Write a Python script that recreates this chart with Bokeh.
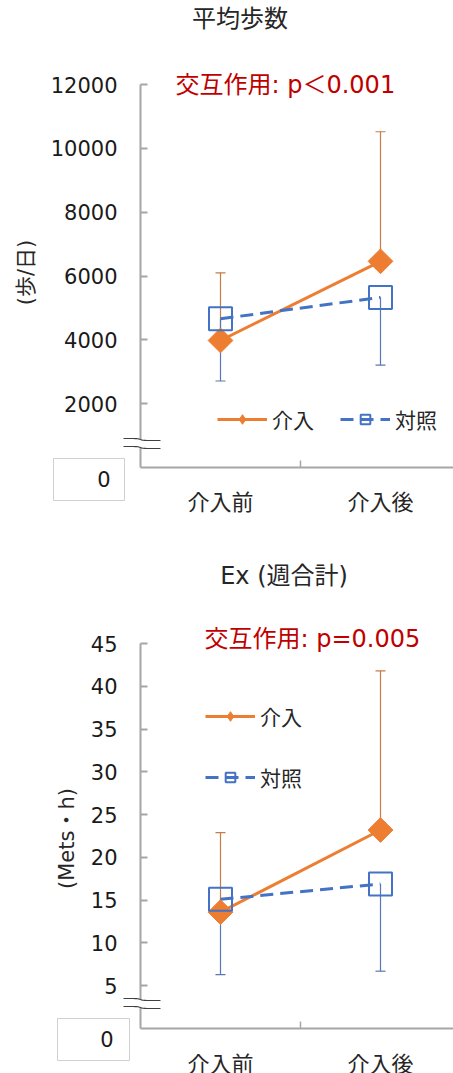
import numpy as np
from bokeh.plotting import figure
from bokeh.models import (Range1d, FixedTicker, Label, Legend, LegendItem,
                          Whisker, TeeHead, ColumnDataSource)
from bokeh.layouts import column
from bokeh.embed import file_html
from bokeh.resources import INLINE
from bokeh.core.properties import value

# ---------------- data ----------------
categories = ["介入前", "介入後"]
series_names = ["介入", "対照"]

# chart 1: 平均歩数 (steps/day)
steps_int_mean = [3980, 6460]
steps_int_upper = [6100, 10520]
steps_ctl_mean = [4660, 5330]
steps_ctl_lower = [2710, 3210]
steps_ticks = [2000, 4000, 6000, 8000, 10000, 12000]
steps_max = 12000

# chart 2: Ex (週合計)
ex_int_mean = [13.6, 23.2]
ex_int_upper = [22.9, 41.8]
ex_ctl_mean = [15.1, 16.9]
ex_ctl_lower = [6.3, 6.7]
ex_ticks = [5, 10, 15, 20, 25, 30, 35, 40, 45]
ex_max = 45

titles = ["平均歩数", "Ex (週合計)"]
y_titles = ["(歩/日)", "(Mets・h)"]
notes = ["交互作用: p＜0.001", "交互作用: p=0.005"]

# ---------------- style ----------------
ORANGE = "#ED7D31"
BLUE = "#4472C4"
ORANGE_ERR = "#C57B4A"
BLUE_ERR = "#5778B5"
AXIS = "#A6A6A6"
RED = "#C00000"
TXT = "#262626"
MIX = "DejaVu Sans, Noto Sans CJK JP"
CJK = "Noto Sans CJK JP"

W = 453
FL = 140            # frame left (px)
FW = W - FL
CAT_PX = 160        # px per category


def fx(px):
    return (np.asarray(px, dtype=float) - FL) / CAT_PX


def make_chart(idx, H, fb, axis_px, ymax, ticks, int_mean, int_upper, ctl_mean, ctl_lower,
               title_pos, note_pos, legend_cfg, zero_box, zero_txt, ylab_pos, break_y,
               axis_cats, cat_y=None):
    k = axis_px / ymax

    def fy(py):
        return (fb - np.asarray(py, dtype=float)) / k

    p = figure(width=W, height=H, x_range=Range1d(0, FW / CAT_PX), y_range=Range1d(0, fb / k),
               output_backend="svg", toolbar_location=None,
               min_border_left=FL, min_border_right=0, min_border_top=0,
               min_border_bottom=H - fb)
    p.outline_line_color = None
    p.xgrid.visible = False
    p.ygrid.visible = False
    p.background_fill_color = "white"

    xs = [i + 0.5 for i in range(len(categories))]

    # y axis
    ya = p.yaxis[0]
    ya.ticker = FixedTicker(ticks=ticks)
    ya.bounds = (0, ymax)
    ya.axis_line_color = AXIS
    ya.axis_line_width = 2
    ya.major_tick_in = 7
    ya.major_tick_out = 0
    ya.major_tick_line_color = AXIS
    ya.major_tick_line_width = 2
    ya.minor_tick_line_color = None
    ya.major_label_standoff = 23
    ya.major_label_text_font = "DejaVu Sans"
    ya.major_label_text_font_size = "21px"
    ya.major_label_text_color = "#1A1A1A"

    # x axis
    xa = p.xaxis[0]
    bounds_cat = [float(i) for i in range(1, len(categories))]
    if axis_cats:
        xa.ticker = FixedTicker(ticks=xs, minor_ticks=bounds_cat)
        xa.major_label_overrides = {x: c for x, c in zip(xs, categories)}
    else:
        xa.ticker = FixedTicker(ticks=[], minor_ticks=bounds_cat)
    xa.axis_line_color = AXIS
    xa.axis_line_width = 2
    xa.major_tick_in = 0
    xa.major_tick_out = 0
    xa.minor_tick_in = 7
    xa.minor_tick_out = 0
    xa.minor_tick_line_color = AXIS
    xa.minor_tick_line_width = 1.5
    xa.major_label_standoff = 16
    xa.major_label_text_font = CJK
    xa.major_label_text_font_size = "22px"
    xa.major_label_text_color = TXT

    if not axis_cats:
        # category names below the (cropped) bottom axis
        p.text(x=xs, y=[float(fy(cat_y))] * len(xs), text=categories,
               text_align="center", text_baseline="middle",
               text_font=value(CJK), text_font_size="22px", text_color=TXT, level="overlay")

    src_int = ColumnDataSource(dict(x=xs, y=int_mean, upper=int_upper))
    src_ctl = ColumnDataSource(dict(x=xs, y=ctl_mean, lower=ctl_lower))

    # error bars
    w1 = Whisker(source=src_int, base="x", lower="y", upper="upper", dimension="height",
                 line_color=ORANGE_ERR, line_width=1.2,
                 upper_head=TeeHead(size=10, line_color=ORANGE_ERR, line_width=1.2),
                 lower_head=None, level="underlay")
    w2 = Whisker(source=src_ctl, base="x", lower="lower", upper="y", dimension="height",
                 line_color=BLUE_ERR, line_width=1.2,
                 lower_head=TeeHead(size=10, line_color=BLUE_ERR, line_width=1.2),
                 upper_head=None, level="underlay")
    p.add_layout(w1)
    p.add_layout(w2)

    l_int = p.line("x", "y", source=src_int, line_color=ORANGE, line_width=3)
    l_ctl = p.line("x", "y", source=src_ctl, line_color=BLUE, line_width=3, line_dash="13 7")
    p.scatter("x", "y", source=src_int, marker="square", size=17.5, angle=np.pi / 4,
              fill_color=ORANGE, line_color=ORANGE, line_width=1)
    m_ctl = p.scatter("x", "y", source=src_ctl, marker="square", size=23,
                      fill_color=None, line_color=BLUE, line_width=2)
    # legend proxy for the diamond symbol
    proxy = p.scatter("x", "y", source=src_int, marker="diamond", size=12,
                      fill_color=ORANGE, line_color=ORANGE, line_width=1, visible=False)

    orient, loc, spacing = legend_cfg
    lg = Legend(items=[LegendItem(label=value(series_names[0]), renderers=[l_int, proxy]),
                       LegendItem(label=value(series_names[1]), renderers=[l_ctl, m_ctl])],
                orientation=orient, location=loc, glyph_width=50, glyph_height=24,
                label_standoff=5, spacing=spacing, padding=0, margin=0,
                border_line_color=None, background_fill_alpha=0,
                label_text_font=CJK, label_text_font_size="21px", label_text_color=TXT)
    p.add_layout(lg)

    # title and interaction note
    p.add_layout(Label(x=float(fx(title_pos[0])), y=float(fy(title_pos[1])), text=titles[idx],
                       text_align="center", text_baseline="middle", text_font=MIX,
                       text_font_size="24px", text_color=TXT))
    p.add_layout(Label(x=float(fx(note_pos[0])), y=float(fy(note_pos[1])), text=notes[idx],
                       text_align="left", text_baseline="middle", text_font=MIX,
                       text_font_size="24px", text_color=RED))

    # y axis title (rotated)
    p.text(x=[float(fx(ylab_pos[0]))], y=[float(fy(ylab_pos[1]))], text=[y_titles[idx]],
           angle=np.pi / 2, text_align="center", text_baseline="middle",
           text_font=value(MIX), text_font_size="21px", text_color=TXT, level="overlay")

    # zero label in a box
    l, r, t, b = zero_box
    p.quad(left=[float(fx(l))], right=[float(fx(r))], top=[float(fy(t))], bottom=[float(fy(b))],
           fill_color="white", line_color="#D0D0D0", line_width=1, level="overlay")
    p.text(x=[float(fx(zero_txt[0]))], y=[float(fy(zero_txt[1]))], text=["0"],
           text_align="right", text_baseline="middle", text_font=value("DejaVu Sans"),
           text_font_size="21px", text_color="#1A1A1A", level="overlay")

    # axis break mark
    dx = np.linspace(-17, 20, 40)
    up = break_y - 4 + 1.0 * np.tanh(dx / 3)
    lo = up + 8
    bx = fx(FL + dx)
    p.patch(np.r_[bx, bx[::-1]], np.r_[fy(up), fy(lo)[::-1]], fill_color="white",
            line_color=None, level="overlay")
    p.line(bx, fy(up), line_color="#404040", line_width=1.2, level="overlay")
    p.line(bx, fy(lo), line_color="#404040", line_width=1.2, level="overlay")
    return p


p1 = make_chart(0, H=540, fb=467, axis_px=383, ymax=steps_max, ticks=steps_ticks,
                int_mean=steps_int_mean, int_upper=steps_int_upper,
                ctl_mean=steps_ctl_mean, ctl_lower=steps_ctl_lower,
                title_pos=(239.5, 18), note_pos=(175, 84),
                legend_cfg=("horizontal", (77, 33), 26),
                zero_box=(53, 124, 458, 500), zero_txt=(110, 478),
                ylab_pos=(25, 272), break_y=443, axis_cats=True)

p2 = make_chart(1, H=533, fb=488, axis_px=385, ymax=ex_max, ticks=ex_ticks,
                int_mean=ex_int_mean, int_upper=ex_int_upper,
                ctl_mean=ex_ctl_mean, ctl_lower=ex_ctl_lower,
                title_pos=(283.5, 35), note_pos=(204, 98),
                legend_cfg=("vertical", (65, 236), 31),
                zero_box=(57, 129, 478, 520), zero_txt=(113, 498),
                ylab_pos=(66, 298), break_y=463, axis_cats=False, cat_y=521)

layout = column(p1, p2, spacing=0)
open("out.html", "w").write(file_html(layout, INLINE))
